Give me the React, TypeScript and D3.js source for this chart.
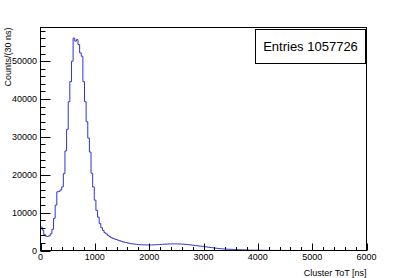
import React from "react";
import * as d3 from "d3";

// Counts per 30 ns bin, 0..6000 ns (200 bins)
const binWidth = 30;
const peakCounts = [
  6200, 5400, 4200, 3800, 3700, 3900, 4400, 5600, 8500, 12000,
  15500, 15600, 16000, 16800, 20300, 26300, 32000, 39300, 44600, 50000,
  56100, 55300, 55700, 54400, 52200, 51300, 44600, 39300, 34000, 29700,
  26000, 20400, 16800, 13300, 10600, 8800, 7100, 6000, 5300, 4700,
  4400, 4000, 3700, 3400, 3200, 3050, 2900, 2750, 2600, 2450,
  2300, 2200, 2100, 2000, 1900, 1800, 1750, 1700, 1650, 1600
];
const bumpCounts = [
  1550, 1520, 1500, 1490, 1480, 1470, 1460, 1460, 1470, 1490,
  1510, 1540, 1570, 1600, 1630, 1650, 1680, 1700, 1720, 1730,
  1740, 1750, 1750, 1740, 1730, 1720, 1700, 1680, 1650, 1610,
  1570, 1520, 1460, 1400, 1340, 1270
];
const tailCounts = [
  1230, 1180, 1130, 1080, 1030, 970, 910, 850, 790, 730,
  670, 620, 570, 520, 480, 440, 410, 380, 350, 330,
  310, 290, 270, 250, 230, 210, 190, 175, 160, 145,
  130, 120, 110, 100, 90, 82, 75, 68, 62, 56,
  51, 46, 42, 38, 35, 32, 29, 27, 25, 23,
  21, 19, 17, 16, 15, 14, 13, 12, 11, 10,
  10, 9, 8, 8, 7, 7, 6, 6, 5, 5,
  5, 4, 4, 4, 3, 3, 3, 3, 2, 2,
  2, 2, 2, 2, 1, 1, 1, 1, 1, 1,
  1, 1, 1, 0, 0, 1, 0, 0, 0, 0,
  0, 0, 0, 0
];
const counts = [...peakCounts, ...bumpCounts, ...tailCounts];

const xMajorTicks = [0, 1000, 2000, 3000, 4000, 5000, 6000];
const yMajorTicks = [0, 10000, 20000, 30000, 40000, 50000];
const entriesLabel = "Entries 1057726";
const xTitle = "Cluster ToT [ns]";
const yTitle = "Counts/(30 ns)";

const W = 407;
const H = 278;
const font = "'Liberation Sans', Arial, Helvetica, sans-serif";

export default function App() {
  const left = 40.5;
  const right = 366.5;
  const top = 27.5;
  const bottom = 250.5;

  const x = d3.scaleLinear().domain([0, 6000]).range([left, right]);
  const y = d3.scaleLinear().domain([0, 58900]).range([bottom, top]);

  const pts: [number, number][] = counts.map((c, i) => [i * binWidth, c]);
  pts.push([counts.length * binWidth, counts[counts.length - 1]]);
  const line = d3
    .line<[number, number]>()
    .x((d) => x(d[0]))
    .y((d) => y(d[1]))
    .curve(d3.curveStepAfter);

  const xMinor = d3.range(0, 6001, 200).filter((v) => v % 1000 !== 0);
  const yMinor = d3.range(0, 58001, 2000).filter((v) => v % 10000 !== 0);

  return (
    <svg
      width={W}
      height={H}
      style={{ position: "absolute", left: 0, top: 0, background: "#fff" }}
      fontFamily={font}
    >
      <rect x={0} y={0} width={W} height={H} fill="#fff" />
      <path d={line(pts) || ""} fill="none" stroke="#3333cc" strokeWidth={1} />

      {/* frame */}
      <rect
        x={left}
        y={top}
        width={right - left}
        height={bottom - top}
        fill="none"
        stroke="#000"
        strokeWidth={1}
      />

      {/* y axis ticks */}
      <g stroke="#000" strokeWidth={1}>
        {yMajorTicks.map((v) => (
          <line key={"ym" + v} x1={left} x2={left + 10} y1={Math.round(y(v)) + 0.5} y2={Math.round(y(v)) + 0.5} />
        ))}
        {yMinor.map((v) => (
          <line key={"yn" + v} x1={left} x2={left + 5} y1={Math.round(y(v)) + 0.5} y2={Math.round(y(v)) + 0.5} />
        ))}
        {xMajorTicks.map((v) => (
          <line key={"xm" + v} x1={Math.round(x(v)) + 0.5} x2={Math.round(x(v)) + 0.5} y1={bottom} y2={bottom - 7} />
        ))}
        {xMinor.map((v) => (
          <line key={"xn" + v} x1={Math.round(x(v)) + 0.5} x2={Math.round(x(v)) + 0.5} y1={bottom} y2={bottom - 3.5} />
        ))}
      </g>

      <g fontSize={9} fill="#000">
        {yMajorTicks.map((v) => (
          <text key={"yl" + v} x={37} y={y(v)} dy="0.35em" textAnchor="end">
            {v}
          </text>
        ))}
        {xMajorTicks.map((v) => (
          <text key={"xl" + v} x={x(v)} y={260} textAnchor="middle">
            {v}
          </text>
        ))}
        <text x={right} y={276} textAnchor="end">
          {xTitle}
        </text>
        <text transform={`translate(11,${top}) rotate(-90)`} textAnchor="end">
          {yTitle}
        </text>
      </g>

      {/* stats box */}
      <rect x={255.5} y={29.5} width={110} height={34} fill="#fff" stroke="#000" strokeWidth={1} />
      <text x={310.5} y={51} textAnchor="middle" fontSize={13} fill="#000">
        {entriesLabel}
      </text>
    </svg>
  );
}
